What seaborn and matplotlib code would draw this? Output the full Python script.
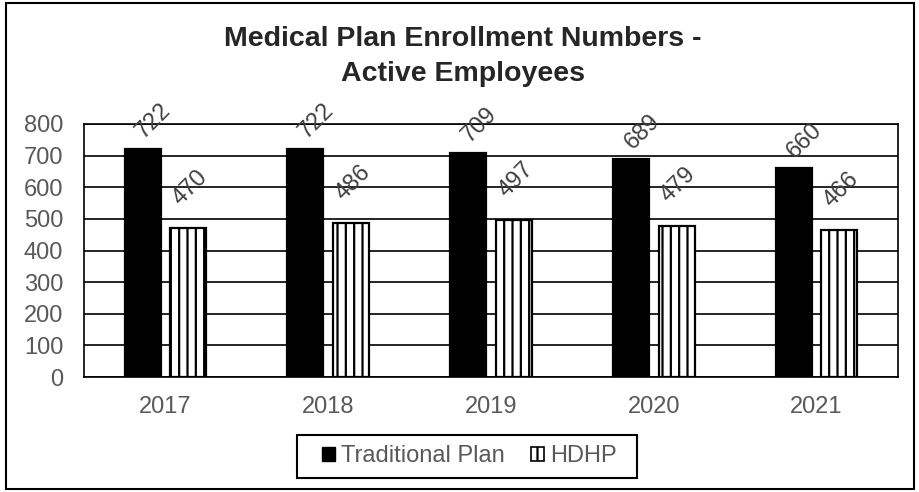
import pandas as pd
import matplotlib.pyplot as plt
import seaborn as sns
from matplotlib.patches import Rectangle

years = ["2017", "2018", "2019", "2020", "2021"]
traditional = [722, 722, 709, 689, 660]
hdhp = [470, 486, 497, 479, 466]
series = ["Traditional Plan", "HDHP"]

df = pd.DataFrame({
    "year": years * 2,
    "plan": [series[0]] * len(years) + [series[1]] * len(years),
    "count": traditional + hdhp,
})

sns.set_theme(style="white")
plt.rcParams["font.family"] = ["Liberation Sans", "DejaVu Sans"]
plt.rcParams["hatch.linewidth"] = 1.6

fig = plt.figure(figsize=(9.2, 4.92), dpi=100)
ax = fig.add_axes([0.0913, 0.2337, 0.8848, 0.5143])

sns.barplot(data=df, x="year", y="count", hue="plan", hue_order=series,
            palette=["black", "white"], width=0.56, gap=0.21,
            edgecolor="black", linewidth=1.6, ax=ax, legend=False, zorder=3)

# hatch the HDHP bars
for bar in ax.containers[1]:
    bar.set_hatch("||")

# data labels, rotated like the original
offsets = [(8, 20), (1.5, 29)]
for cont, (dx, dy) in zip(ax.containers, offsets):
    for bar in cont:
        h = bar.get_height()
        ax.annotate(f"{h:.0f}", (bar.get_x() + bar.get_width() / 2, h),
                    xytext=(dx, dy), textcoords="offset points",
                    ha="center", va="center", rotation=45,
                    fontsize=17, color="#404040", zorder=4)

ax.set_ylim(0, 800)
ax.set_yticks(range(0, 801, 100))
ax.yaxis.grid(True, color="black", linewidth=1.2, zorder=0)
ax.set_axisbelow(True)
ax.tick_params(axis="both", length=0, labelsize=17, colors="#595959")
ax.tick_params(axis="y", pad=15)
ax.tick_params(axis="x", pad=14)
ax.set_xlabel("")
ax.set_ylabel("")
for side in ["left", "right", "top", "bottom"]:
    ax.spines[side].set_visible(True)
    ax.spines[side].set_color("black")
    ax.spines[side].set_linewidth(1.2)

fig.text(0.503, 0.885, "Medical Plan Enrollment Numbers -\nActive Employees",
         ha="center", va="center", fontsize=20.5, fontweight="bold",
         linespacing=1.45)

handles = [Rectangle((0, 0), 1, 1, facecolor="black", edgecolor="black"),
           Rectangle((0, 0), 1, 1, facecolor="white", edgecolor="black",
                     hatch="||", linewidth=1.2)]
leg = fig.legend(handles, series, loc="center", bbox_to_anchor=(0.5103, 0.0722),
                 ncol=2, fontsize=17, frameon=False,
                 handlelength=0.55, handleheight=0.55, handletextpad=0.25,
                 columnspacing=1.1, borderpad=0.3, labelcolor="#595959")

# legend box drawn separately (wider padding than matplotlib gives)
fig.patches.append(Rectangle((297 / 920, 1 - 478 / 492), 340 / 920, 43 / 492,
                             transform=fig.transFigure, fill=False,
                             edgecolor="black", linewidth=1.5))

fig.patches.append(Rectangle((0.006, 0.006), 0.988, 0.988, transform=fig.transFigure,
                             fill=False, edgecolor="black", linewidth=1.5))

fig.savefig("out.png", dpi=100)
